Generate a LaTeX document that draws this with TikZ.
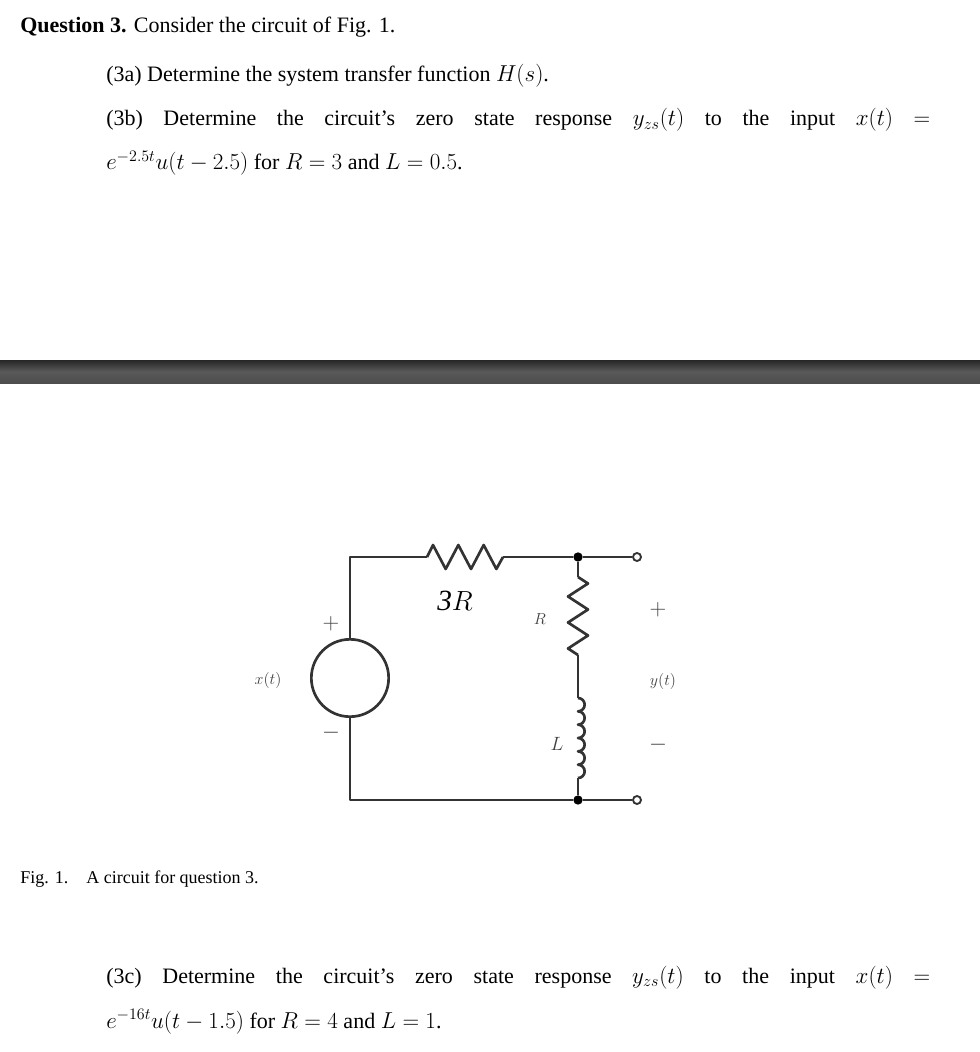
\documentclass[tikz,border=0pt]{standalone}
\usepackage{fontspec}
\usepackage{amsmath}
\setmainfont{Liberation Serif}
\begin{document}
\begin{tikzpicture}[x=0.75pt,y=0.75pt,yscale=-1,xscale=1,
  wire/.style={line width=2pt,color=black!80,line join=round},
  txt/.style={anchor=base west,inner sep=0pt,font=\fontsize{16.5}{20}\selectfont},
  lbl/.style={inner sep=0pt,color=black!75,font=\itshape},
  dot/.style={circle,fill=black,inner sep=0pt,minimum size=7pt},
  term/.style={circle,draw=black!80,line width=1.4pt,fill=white,inner sep=0pt,minimum size=6pt}]
\useasboundingbox (0,0) rectangle (980,1052);

% Text
\node[txt] (q) at (20,33) {\textbf{Question 3.} Consider the circuit of Fig. 1.};
\node[txt] (qa) at (106,82) {(3a) Determine the system transfer function $H(s)$.};
\node[txt] (qb) at (106,126) {\hbox to 618pt{(3b)\hfill Determine\hfill the\hfill circuit's\hfill zero\hfill state\hfill response\hfill $y_{zs}(t)$\hfill to\hfill the\hfill input\hfill $x(t)$\hfill $=$}};
\node[txt] (qb2) at (106,170) {$e^{-2.5t}u(t-2.5)$ for $R=3$ and $L=0.5$.};
\node[txt] (qc) at (106,983) {\hbox to 618pt{(3c)\hfill Determine\hfill the\hfill circuit's\hfill zero\hfill state\hfill response\hfill $y_{zs}(t)$\hfill to\hfill the\hfill input\hfill $x(t)$\hfill $=$}};
\node[txt] (qc2) at (106,1028) {$e^{-16t}u(t-1.5)$ for $R=4$ and $L=1$.};
\node[txt,font=\fontsize{13.5}{16}\selectfont] (cap) at (20,883) {Fig. 1.\quad A circuit for question 3.};

% Bar
\shade[top color=black!85,bottom color=black!70,middle color=black!65] (0,360) rectangle (980,383);

% Circuit
\coordinate (tl) at (350,557);
\coordinate (bl) at (350,800);
\coordinate (ra) at (427,557);
\coordinate (rb) at (503,557);
\node[dot] (nt) at (578,557) {};
\node[dot] (nb) at (578,800) {};
\node[term] (tt) at (637,557) {};
\node[term] (tb) at (637,800) {};
\node[circle,draw=black!80,line width=2pt,minimum size=58pt,inner sep=0pt] (src) at (350,678) {};
\coordinate (r1) at (578,577);
\coordinate (r2) at (578,655);
\coordinate (l1) at (578,698);
\coordinate (l2) at (578,778);

\draw[wire] (src.north) -- (tl) -- (ra);
\draw[wire] (ra) -- ++(6,-12) -- ++(12.67,24) -- ++(12.67,-24) -- ++(12.67,24) -- ++(12.67,-24) -- ++(12.67,24) -- (rb);
\draw[wire] (rb) -- (nt) -- (tt);
\draw[wire] (src.south) -- (bl) -- (nb) -- (tb);
\draw[wire] (nt) -- (r1);
\draw[wire] (r1) -- ++(10,6.5) -- ++(-20,13) -- ++(20,13) -- ++(-20,13) -- ++(20,13) -- ++(-20,13) -- (r2);
\draw[wire] (r2) -- (l1);
\draw[wire] (l1) \foreach \i in {1,...,6} {arc[start angle=-90,end angle=90,radius=6.67]};
\draw[wire] (l2) -- (nb);

\node[lbl,font=\itshape\fontsize{22}{24}\selectfont,color=black] (l3r) at (455,601) {3$R$};
\node[lbl,font=\itshape\fontsize{13}{14}\selectfont] (lr) at (540,619) {$R$};
\node[lbl,font=\itshape\fontsize{15}{16}\selectfont] (ll) at (557,744) {$L$};
\node[lbl,font=\fontsize{16}{16}\selectfont] (sp) at (331,624) {$+$};
\node[lbl,font=\fontsize{16}{16}\selectfont] (sm) at (331,733) {$-$};
\node[lbl,font=\fontsize{13}{14}\selectfont] (lx) at (268,680) {$x(t)$};
\node[lbl,font=\fontsize{16}{16}\selectfont] (yp) at (658,610) {$+$};
\node[lbl,font=\fontsize{13}{14}\selectfont] (ly) at (663,681) {$y(t)$};
\node[lbl,font=\fontsize{16}{16}\selectfont] (ym) at (658,745) {$-$};
\end{tikzpicture}
\end{document}
